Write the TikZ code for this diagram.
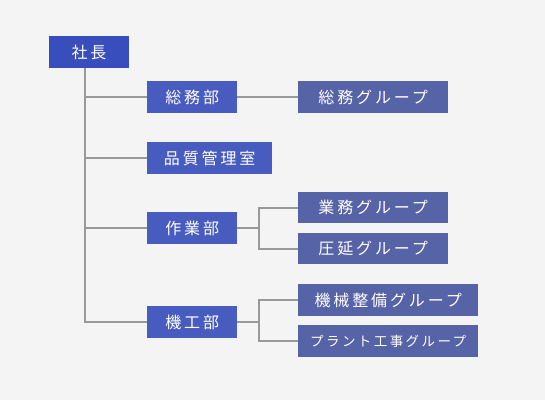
\documentclass[tikz,border=0pt]{standalone}
\usepackage{fontspec}
\newfontfamily\jpfont[LetterSpace=18]{Noto Sans CJK JP}
\usetikzlibrary{positioning}
\definecolor{PaperGray}{RGB}{244,244,244}
\definecolor{ChiefBlue}{RGB}{57,78,189}
\definecolor{DeptBlue}{RGB}{72,92,192}
\definecolor{GroupBlue}{RGB}{86,99,166}
\definecolor{LineGray}{RGB}{153,153,153}

\begin{document}
\begin{tikzpicture}[
    x=1pt, y=-1pt,
    every node/.style={font=\jpfont\fontsize{16}{18}\selectfont, text=white, inner sep=0pt},
    chief/.style={fill=ChiefBlue, minimum width=80pt, minimum height=32pt},
    dept/.style={fill=DeptBlue, minimum height=32pt, anchor=west},
    grp/.style={fill=GroupBlue, minimum height=31.5pt, anchor=west},
    link/.style={draw=LineGray, line width=2pt}
]
\fill[PaperGray] (0,0) rectangle (545,400);
\useasboundingbox (0,0) rectangle (545,400);

\node[chief] (ceo) at (89,52) {社長};
\coordinate (trunk) at (85,0);

% 部・室
\node[dept, minimum width=90pt] (somu) at (147,97) {総務部};
\node[dept, minimum width=125pt] (hinshitsu) at (147,158) {品質管理室};
\node[dept, minimum width=90pt] (sagyo) at (147,228) {作業部};
\node[dept, minimum width=90pt] (kiko) at (147,322) {機工部};

% グループ
\node[grp, minimum width=150pt] (somugrp) at (298,97) {総務グループ};
\node[grp, minimum width=150pt] (gyomugrp) at (298,207.5) {業務グループ};
\node[grp, minimum width=150pt] (atsuengrp) at (298,248.5) {圧延グループ};
\node[grp, minimum width=180pt] (seibigrp) at (298,300) {機械整備グループ};
\node[grp, minimum width=180pt, font=\jpfont\fontsize{13.5}{16}\selectfont] (koujigrp) at (298,341) {プラント工事グループ};

\draw[link] (ceo.south -| trunk) |- (kiko.west);
\foreach \d in {somu, hinshitsu, sagyo}
  \draw[link] (\d.west -| trunk) -- (\d.west);

\draw[link] (somu) -- (somugrp);
\draw[link] (sagyo.east) -- ++(21.5,0) |- (gyomugrp.west);
\draw[link] (sagyo.east) -- ++(21.5,0) |- (atsuengrp.west);
\draw[link] (kiko.east) -- ++(21.5,0) |- (seibigrp.west);
\draw[link] (kiko.east) -- ++(21.5,0) |- (koujigrp.west);
\end{tikzpicture}
\end{document}
